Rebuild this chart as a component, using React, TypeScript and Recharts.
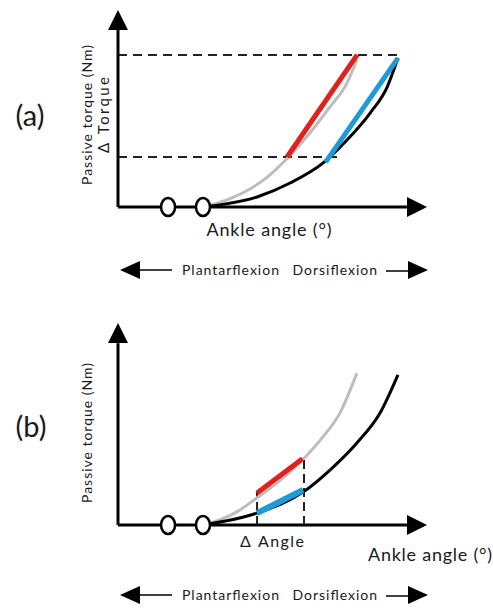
import React from "react";
import {
  ComposedChart,
  Line,
  Scatter,
  XAxis,
  YAxis,
  ReferenceLine,
  ReferenceDot,
} from "recharts";

// panel (a): torque-angle curves, both on 0..100 schematic units
const grayA = [
  { x: 27.5, y: 0 },
  { x: 35, y: 3.5 },
  { x: 42, y: 8.5 },
  { x: 48.2, y: 15 },
  { x: 54.7, y: 24.6 },
  { x: 62.1, y: 37.6 },
  { x: 68.6, y: 50.8 },
  { x: 74.1, y: 62.9 },
  { x: 77.3, y: 74.6 },
];
const blackA = [
  { x: 27.5, y: 0 },
  { x: 45, y: 5.1 },
  { x: 55.7, y: 12.2 },
  { x: 66.3, y: 22.3 },
  { x: 74.1, y: 34 },
  { x: 81.6, y: 47.7 },
  { x: 87.1, y: 60.9 },
  { x: 90.6, y: 75.6 },
];
const redA = [
  { x: 54.7, y: 25.4 },
  { x: 77.4, y: 77.2 },
];
const blueA = [
  { x: 67.2, y: 22.8 },
  { x: 90.6, y: 75.6 },
];
const torqueLevels = [77.2, 25.4];
const torqueDashEnds = [91.5, 72.8];

// panel (b)
const grayB = [
  { x: 27.5, y: 0 },
  { x: 33, y: 2.5 },
  { x: 39, y: 7 },
  { x: 45, y: 13.5 },
  { x: 52, y: 21.5 },
  { x: 58.9, y: 31 },
  { x: 66.3, y: 43.6 },
  { x: 71.8, y: 55.4 },
  { x: 77.3, y: 75.2 },
];
const blackB = [
  { x: 27.5, y: 0 },
  { x: 45, y: 5.9 },
  { x: 59.9, y: 16.3 },
  { x: 68.6, y: 27.2 },
  { x: 77.3, y: 40.6 },
  { x: 84.8, y: 55.4 },
  { x: 90.6, y: 74.3 },
];
const redB = [
  { x: 45, y: 15.8 },
  { x: 59.7, y: 32.8 },
];
const blueB = [
  { x: 45, y: 5.9 },
  { x: 59.9, y: 17.3 },
];
const angleMarks = [
  { x: 45, top: 16.3 },
  { x: 60.2, top: 33 },
];

// slack region markers (the two open rings on the angle axis)
const slack = [
  { x: 16.2, y: 0 },
  { x: 27.5, y: 0 },
];

const FONT = "Lato, 'Open Sans', sans-serif";
const INK = "#1a1a1a";

const ArrowRight = (p: any) => (
  <polygon
    points={`${p.cx},${p.cy} ${p.cx - 20},${p.cy - 10} ${p.cx - 20},${p.cy + 10}`}
    fill="#000"
  />
);
const ArrowUp = (p: any) => (
  <polygon
    points={`${p.cx},${p.cy} ${p.cx - 10},${p.cy + 20} ${p.cx + 10},${p.cy + 20}`}
    fill="#000"
  />
);
const Ring = (p: any) => (
  <ellipse cx={p.cx} cy={p.cy} rx={7} ry={9} fill="#fff" stroke="#000" strokeWidth={2.5} />
);

function Axes() {
  return [
    <ReferenceLine
      key="xa"
      segment={[{ x: 0, y: 0 }, { x: 93.5, y: 0 }]}
      stroke="#000"
      strokeWidth={3}
      ifOverflow="visible"
    />,
    <ReferenceLine
      key="ya"
      segment={[{ x: 0, y: 0 }, { x: 0, y: 90 }]}
      stroke="#000"
      strokeWidth={3}
      ifOverflow="visible"
    />,
    <ReferenceDot key="xh" x={100} y={0} r={1} shape={ArrowRight} ifOverflow="visible" />,
    <ReferenceDot key="yh" x={0} y={100} r={1} shape={ArrowUp} ifOverflow="visible" />,
  ];
}

function FlexionRow({ y }: { y: number }) {
  return (
    <g>
      <polygon points={`120,${y} 140,${y - 9} 140,${y + 9}`} fill="#000" />
      <line x1={139} y1={y} x2={172} y2={y} stroke="#000" strokeWidth={1.5} />
      <text
        x={182}
        y={y + 5}
        fontSize={14}
        fill={INK}
        fontFamily={FONT}
        textLength={195}
        lengthAdjust="spacing"
        wordSpacing={8}
      >
        Plantarflexion Dorsiflexion
      </text>
      <line x1={386} y1={y + 1} x2={409} y2={y + 1} stroke="#000" strokeWidth={1.5} />
      <polygon points={`428,${y} 408,${y - 9} 408,${y + 9}`} fill="#000" />
    </g>
  );
}

const margin = { right: 66, left: 118 };

export default function App() {
  return (
    <div style={{ position: "absolute", left: 0, top: 0, width: 493, height: 608, background: "#fff" }}>
      {/* panel (a) */}
      <div style={{ position: "absolute", left: 0, top: 0, width: 493, height: 300 }}>
        <ComposedChart width={493} height={300} margin={{ top: 10, bottom: 93, ...margin }}>
          <XAxis type="number" dataKey="x" domain={[0, 100]} hide />
          <YAxis type="number" dataKey="y" domain={[0, 100]} hide />
          {torqueLevels.map((lv, i) => (
            <ReferenceLine
              key={i}
              segment={[{ x: 0, y: lv }, { x: torqueDashEnds[i], y: lv }]}
              stroke="#222"
              strokeWidth={2}
              strokeDasharray="9 6"
              ifOverflow="visible"
            />
          ))}
          {Axes()}
          <Line data={grayA} dataKey="y" type="monotone" dot={false} stroke="#bdbdbd" strokeWidth={3} isAnimationActive={false} />
          <Line data={blackA} dataKey="y" type="monotone" dot={false} stroke="#000" strokeWidth={3} isAnimationActive={false} />
          <Line data={redA} dataKey="y" type="linear" dot={false} stroke="#e3211c" strokeWidth={5} isAnimationActive={false} />
          <Line data={blueA} dataKey="y" type="linear" dot={false} stroke="#1e9ad6" strokeWidth={5} isAnimationActive={false} />
          <Scatter data={slack} dataKey="y" shape={Ring} isAnimationActive={false} />
        </ComposedChart>
        <svg width={493} height={300} style={{ position: "absolute", left: 0, top: 0, pointerEvents: "none" }}>
          <text x={30} y={126} fontSize={29} textAnchor="middle" fill={INK} fontFamily={FONT}>(a)</text>
          <text
            transform="translate(92,115) rotate(-90)"
            fontSize={14}
            textAnchor="middle"
            fill={INK}
            fontFamily={FONT}
            textLength={140}
            lengthAdjust="spacing"
          >
            Passive torque (Nm)
          </text>
          <text
            transform="translate(109,115) rotate(-90)"
            fontSize={15}
            textAnchor="middle"
            fill={INK}
            fontFamily={FONT}
            textLength={76}
            lengthAdjust="spacing"
          >
            Δ Torque
          </text>
          <text x={269} y={236} fontSize={18} textAnchor="middle" fill={INK} fontFamily={FONT} textLength={125} lengthAdjust="spacing">
            Ankle angle (°)
          </text>
          <FlexionRow y={270} />
        </svg>
      </div>

      {/* panel (b) */}
      <div style={{ position: "absolute", left: 0, top: 300, width: 493, height: 308 }}>
        <ComposedChart width={493} height={308} margin={{ top: 23, bottom: 83, ...margin }}>
          <XAxis type="number" dataKey="x" domain={[0, 100]} hide />
          <YAxis type="number" dataKey="y" domain={[0, 100]} hide />
          {angleMarks.map((m, i) => (
            <ReferenceLine
              key={i}
              segment={[{ x: m.x, y: 0 }, { x: m.x, y: m.top }]}
              stroke="#222"
              strokeWidth={2}
              strokeDasharray="9 5"
              ifOverflow="visible"
            />
          ))}
          {Axes()}
          <Line data={grayB} dataKey="y" type="monotone" dot={false} stroke="#bdbdbd" strokeWidth={3} isAnimationActive={false} />
          <Line data={blackB} dataKey="y" type="monotone" dot={false} stroke="#000" strokeWidth={3} isAnimationActive={false} />
          <Line data={redB} dataKey="y" type="linear" dot={false} stroke="#e3211c" strokeWidth={5} isAnimationActive={false} />
          <Line data={blueB} dataKey="y" type="linear" dot={false} stroke="#1e9ad6" strokeWidth={6} isAnimationActive={false} />
          <Scatter data={slack} dataKey="y" shape={Ring} isAnimationActive={false} />
        </ComposedChart>
        <svg width={493} height={308} style={{ position: "absolute", left: 0, top: 0, pointerEvents: "none" }}>
          <text x={31} y={137} fontSize={29} textAnchor="middle" fill={INK} fontFamily={FONT}>(b)</text>
          <text
            transform="translate(92,133) rotate(-90)"
            fontSize={14}
            textAnchor="middle"
            fill={INK}
            fontFamily={FONT}
            textLength={140}
            lengthAdjust="spacing"
          >
            Passive torque (Nm)
          </text>
          <text x={272} y={247} fontSize={16} textAnchor="middle" fill={INK} fontFamily={FONT} textLength={64} lengthAdjust="spacing">
            Δ Angle
          </text>
          <text x={430} y={261} fontSize={18} textAnchor="middle" fill={INK} fontFamily={FONT} textLength={124} lengthAdjust="spacing">
            Ankle angle (°)
          </text>
          <FlexionRow y={295} />
        </svg>
      </div>
    </div>
  );
}
